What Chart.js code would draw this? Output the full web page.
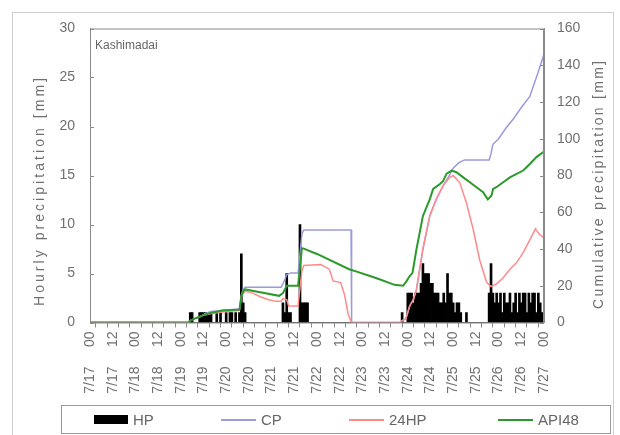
<!DOCTYPE html>
<html><head><meta charset="utf-8">
<script src="https://cdn.jsdelivr.net/npm/chart.js@4.4.0/dist/chart.umd.min.js"></script>
<style>
html,body{margin:0;padding:0;background:#fff;}
#wrap{position:relative;width:620px;height:435px;overflow:hidden;}
#frame{position:absolute;left:12px;top:12px;width:600px;height:440px;border:1px solid #cfcfcf;}
canvas{position:absolute;left:0;top:0;}
#legend{position:absolute;left:61px;top:405px;width:550px;height:29px;border:1px solid #9a9a9a;box-sizing:border-box;font:15px "Liberation Sans",Arial,sans-serif;color:#666;}
.item{position:absolute;top:0;height:27px;display:flex;align-items:center;}
.sw{display:inline-block;margin-right:5px;}
#site{position:absolute;left:95px;top:38px;font:12px "Liberation Sans",Arial,sans-serif;color:#666;}
</style></head>
<body><div id="wrap"><div id="frame"></div><canvas id="c" width="620" height="435" style="width:620px;height:435px"></canvas><div id="site">Kashimadai</div><div id="legend"></div></div>
<script>
// x tick labels (every 12 h from 7/17 00)
const TICK_LABELS = ['7/17     00','7/17     12','7/18     00','7/18     12','7/19     00','7/19     12','7/20     00','7/20     12','7/21     00','7/21     12','7/22     00','7/22     12','7/23     00','7/23     12','7/24     00','7/24     12','7/25     00','7/25     12','7/26     00','7/26     12','7/27     00'];
const SERIES_NAMES = ['HP','CP','24HP','API48'];
const AXIS_TITLES = ['Hourly precipitation [mm]','Cumulative precipitation [mm]'];
// Hourly precipitation [mm], hour 0 = 7/17 00
const HP = [
 0,0,0,0,0,0,0,0,0,0,0,0,0,0,0,0,0,0,0,0,0,0,0,0,
 0,0,0,0,0,0,0,0,0,0,0,0,0,0,0,0,0,0,0,0,0,0,0,0,
 0,0,0,0,0,1,1,0,0,0,1,1,1,1,1,1,1,0,0,1,0,1,0,0,
 1,0,1,1,0,1,0,1,7,2,1,0,0,0,0,0,0,0,0,0,0,0,0,0,
 0,0,0,0,0,0,2,1,5,1,1,0,0,0,0,10,2,2,2,2,0,0,0,0,
 0,0,0,0,0,0,0,0,0,0,0,0,0,0,0,0,0,0,0,0,0,0,0,0,
 0,0,0,0,0,0,0,0,0,0,0,0,0,0,0,0,0,0,0,0,0,1,0,0,
 3,3,3,2,3,3,3,4,6,5,5,5,4,4,3,3,3,2,2,3,2,5,3,3,
 2,1,2,2,1,0,0,1,0,0,0,0,0,0,0,0,0,0,0,3,6,3,2,3,
 2,3,1,3,2,2,3,1,2,3,1,3,2,3,3,1,3,2,3,3,1,3,2,1,
 1];
// Cumulative precipitation [mm] : [hour, value]
const CP = [[0,0],[52,0],[53,1],[55,2],[58,3],[61,5],[64,6],[69,6.5],[74,7],[79,7.5],[80,15],[81,18],[82,19.2],[101,19.2],[102,21],[104,26],[106,27],[110,27],[111,37],[112,48],[113,50.4],[138,50.4],[138.3,0],[164,0],[165,1],[167,2],[169,9],[171,12.6],[172.6,18],[176,40],[179.6,58],[183,67],[186.7,74.5],[190,80],[192,84],[195,87],[198,88.5],[211,88.5],[212,92],[213,97],[216,100],[220,106],[224,111],[228,117],[232.5,123],[236.5,135],[240,146]];
// 24-hour precipitation [mm]
const P24 = [[0,0],[52,0],[53,1],[55,2],[60,4],[65,5],[72,6],[79,6.5],[80,14],[81,16],[82,17],[86,16],[90,14],[94,12.5],[98,11.5],[101,11.5],[102,13],[104,12.5],[105,9],[110,9],[111,19],[112,28],[113,31],[122,31.5],[126.5,29],[128.5,22.6],[132.5,21.7],[134.5,15.3],[136.5,4.4],[138.2,0],[164,0],[165,1],[167,2],[169,9],[171,12.6],[172.6,18],[176,40],[179.6,58],[183,67],[186.7,74.5],[190.2,79],[192,80],[195.5,76],[199,65],[202.5,51],[206,34],[209.6,22],[212,19.6],[215,21],[218.4,24.4],[222,29],[225.5,32.6],[229,38],[232.5,45],[235.5,51],[237.5,48],[240,46]];
// API48 [mm]
const API48 = [[0,0],[52,0],[53,1],[55,2],[60,4],[65,5.5],[70,6.5],[79,7],[80,14],[81,17],[82,18],[90,16.5],[100,14.5],[102,16],[104,20],[110,20],[111,30],[112,40.4],[113,40.2],[120,37.3],[137,29],[141,27.7],[148,25.3],[153,23.5],[161,20.5],[165.5,20],[167,22],[169,25.3],[170.5,27],[172.6,40],[176,58],[179.6,67],[181.4,72.7],[185,75.4],[186.7,77],[188.5,81],[191.2,82.7],[193.7,81.8],[197.3,79],[200.8,76.3],[204.3,73.6],[207.8,70.9],[210.3,67],[212.2,69],[213.1,72.7],[214.8,73.6],[218.4,76.3],[222,79],[225.5,80.9],[229,82.7],[232.5,86.3],[236,90],[240,93]];

const COLORS = ['#000000','#9a9ae0','#ff8a8a','#2a9a2a'];
const TXT = '#707070';
const FONT = {family:'"Liberation Sans", Arial, sans-serif', size:14};
const toXY = a => a.map(p => ({x:p[0], y:p[1]}));

const frameTicks = {
  id:'frameTicks',
  afterDraw(chart){
    const ctx = chart.ctx, a = chart.chartArea;
    ctx.save();
    ctx.strokeStyle = '#8a8a8a'; ctx.lineWidth = 1;
    ctx.strokeRect(a.left+0.5, a.top+0.5, a.right-a.left-1, a.bottom-a.top);
    const y = chart.scales.y, y1 = chart.scales.y1;
    ctx.beginPath();
    y.ticks.forEach(t => { const p = Math.round(y.getPixelForValue(t.value))+0.5; ctx.moveTo(a.left, p); ctx.lineTo(a.left+4, p); });
    y1.ticks.forEach(t => { const p = Math.round(y1.getPixelForValue(t.value))+0.5; ctx.moveTo(a.right-4, p); ctx.lineTo(a.right, p); });
    ctx.stroke();
    // axis titles, both reading bottom-to-top
    ctx.fillStyle = TXT;
    ctx.font = '14px "Liberation Sans", Arial, sans-serif';
    ctx.textAlign = 'center'; ctx.textBaseline = 'middle';
    const drawTitle = (text, cx, cy, len) => {
      const w0 = ctx.measureText(text).width;
      const sp = Math.max(0, (len - w0) / (text.length - 1));
      ctx.save();
      ctx.translate(cx, cy); ctx.rotate(-Math.PI/2);
      if ('letterSpacing' in ctx) { ctx.letterSpacing = sp.toFixed(2) + 'px'; }
      ctx.fillText(text, sp/2, 0);
      ctx.restore();
    };
    drawTitle(AXIS_TITLES[0], 40, 192, 228);
    drawTitle(AXIS_TITLES[1], 599, 185, 248);
    ctx.restore();
  }
};

new Chart(document.getElementById('c'), {
  type:'line',
  data:{datasets:[
    {type:'line', label:SERIES_NAMES[3], data:toXY(API48), yAxisID:'y1', borderColor:COLORS[3], borderWidth:2, pointRadius:0, tension:0, order:1},
    {type:'line', label:SERIES_NAMES[2], data:toXY(P24), yAxisID:'y1', borderColor:COLORS[2], borderWidth:1.5, pointRadius:0, tension:0, order:2},
    {type:'line', label:SERIES_NAMES[1], data:toXY(CP), yAxisID:'y1', borderColor:COLORS[1], borderWidth:1.5, pointRadius:0, tension:0, order:3},
    {type:'bar', label:SERIES_NAMES[0], data:HP.map((v,i)=>({x:i,y:v})), yAxisID:'y', backgroundColor:COLORS[0], barThickness:2, borderWidth:0, order:4}
  ]},
  options:{
    responsive:false, animation:false, devicePixelRatio:1,
    layout:{padding:{top:28.5, bottom:35, left:0, right:0}},
    plugins:{legend:{display:false}, tooltip:{enabled:false}},
    scales:{
      x:{type:'linear', min:0, max:240, offset:false,
         afterFit(s){ s.height = 77.5; },
         ticks:{stepSize:6, autoSkip:false, maxRotation:90, minRotation:90, padding:4, color:TXT, font:FONT,
                callback:(v)=> (v % 12 === 0 ? TICK_LABELS[v/12] : '')},
         grid:{display:true, drawOnChartArea:false, drawTicks:true, tickLength:5, color:'#8a8a8a'},
         border:{display:true, color:'#8a8a8a'}},
      y:{position:'left', min:0, max:30,
         afterFit(s){ s.width = 90; },
         ticks:{stepSize:5, color:TXT, font:FONT, padding:15},
         grid:{display:false, drawTicks:false, tickLength:0}, border:{display:true, color:'#8a8a8a'}},
      y1:{position:'right', min:0, max:160,
         afterFit(s){ s.width = 76; },
         ticks:{stepSize:20, color:TXT, font:FONT, padding:13},
         grid:{display:false, drawTicks:false, tickLength:0}, border:{display:true, color:'#8a8a8a'}}
    }
  },
  plugins:[frameTicks]
});

// legend
const LEG_POS = [32, 159, 287, 436];
const leg = document.getElementById('legend');
SERIES_NAMES.forEach((n,i)=>{
  const d = document.createElement('div'); d.className='item'; d.style.left = LEG_POS[i]+'px';
  const s = document.createElement('span'); s.className='sw';
  if(i===0){ s.style.width='34px'; s.style.height='9px'; s.style.background=COLORS[0]; }
  else { s.style.width='35px'; s.style.height='0'; s.style.borderTop='2px solid '+COLORS[i]; }
  d.appendChild(s); d.appendChild(document.createTextNode(n)); leg.appendChild(d);
});
</script>
</body></html>
